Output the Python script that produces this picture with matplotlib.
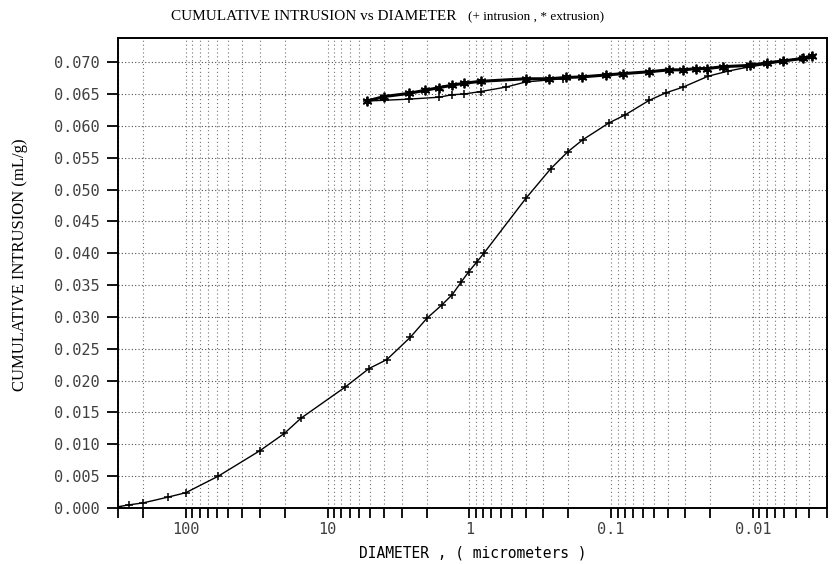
import matplotlib
matplotlib.use("Agg")
import matplotlib.pyplot as plt
from matplotlib.ticker import FixedLocator, LogLocator, NullFormatter, FixedFormatter

# intrusion (+), first pass: diameter (um) vs cumulative volume (mL/g)
intr_d = [300, 250, 200, 134, 100, 59, 30, 20.2, 15.4, 7.5, 5.1, 3.82, 2.61, 1.99,
          1.56, 1.32, 1.14, 1.01, 0.88, 0.79, 0.40, 0.266, 0.203, 0.159, 0.103,
          0.080, 0.054, 0.041, 0.031, 0.0207, 0.015, 0.011, 0.008, 0.006, 0.0045, 0.0038]
intr_v = [0.0002, 0.0005, 0.0008, 0.0017, 0.0024, 0.0050, 0.0090, 0.0117, 0.0141,
          0.0190, 0.0219, 0.0233, 0.0268, 0.0298, 0.0319, 0.0335, 0.0355, 0.0371,
          0.0387, 0.0400, 0.0486, 0.0533, 0.0559, 0.0578, 0.0605, 0.0617, 0.0640,
          0.0652, 0.0661, 0.0678, 0.0686, 0.0692, 0.0697, 0.0702, 0.0707, 0.0710]

# extrusion (*)
extr_d = [0.0038, 0.0044, 0.0061, 0.008, 0.0105, 0.0163, 0.021, 0.025, 0.031, 0.039,
          0.054, 0.083, 0.108, 0.16, 0.207, 0.275, 0.40, 0.83, 1.09, 1.32, 1.64,
          2.04, 2.68, 4.0, 5.3]
extr_v = [0.0709, 0.0706, 0.0702, 0.0699, 0.0695, 0.0693, 0.0690, 0.0690, 0.0688,
          0.0688, 0.0685, 0.0682, 0.0680, 0.0677, 0.0676, 0.0674, 0.0674, 0.0670,
          0.0667, 0.0664, 0.0660, 0.0656, 0.0651, 0.0646, 0.0639]

# second intrusion (+)
intr2_d = [5.3, 2.68, 1.64, 1.32, 1.09, 0.83, 0.55, 0.40, 0.22]
intr2_v = [0.0639, 0.0642, 0.0645, 0.0649, 0.0650, 0.0654, 0.0661, 0.0669, 0.0674]

y_ticks = [0.000, 0.005, 0.010, 0.015, 0.020, 0.025, 0.030, 0.035,
           0.040, 0.045, 0.050, 0.055, 0.060, 0.065, 0.070]
x_ticks = [100, 10, 1, 0.1, 0.01]
x_labels = ["100", "10", "1", "0.1", "0.01"]

mono = "DejaVu Sans Mono"
serif = "Liberation Serif"

fig = plt.figure(figsize=(8.32, 5.64), dpi=100)
ax = fig.add_axes([0.142, 0.0993, 0.852, 0.8333])

ax.plot(intr_d, intr_v, color="black", lw=1.0, marker="+", ms=6, mew=1.1)
ax.plot(intr2_d, intr2_v, color="black", lw=1.0, marker="+", ms=6, mew=1.1)
ax.plot(extr_d, extr_v, color="black", lw=2.2, marker=(6, 2, 0), ms=7, mew=1.3)

ax.set_xscale("log")
ax.set_xlim(300, 0.003)
ax.set_ylim(0, 0.0738)

ax.xaxis.set_major_locator(FixedLocator(x_ticks))
ax.xaxis.set_major_formatter(FixedFormatter(x_labels))
ax.xaxis.set_minor_locator(LogLocator(base=10, subs=range(2, 10), numticks=20))
ax.xaxis.set_minor_formatter(NullFormatter())
ax.yaxis.set_major_locator(FixedLocator(y_ticks))
ax.set_yticklabels([f"{v:.3f}" for v in y_ticks])

# dotted, dot-matrix style grid
ax.grid(True, which="both", axis="x", color="0.45", ls=(0, (1, 2.5)), lw=0.8)
ax.grid(True, which="major", axis="y", color="0.3", ls=(0, (1, 2)), lw=0.8)

ax.tick_params(axis="x", which="both", direction="out", length=7, width=1.3, pad=3)
ax.tick_params(axis="y", which="both", direction="out", length=8, width=1.3, pad=5)
for lab in ax.get_xticklabels() + ax.get_yticklabels():
    lab.set_family(mono)
    lab.set_fontsize(11)
    lab.set_color("0.25")

for sp in ax.spines.values():
    sp.set_linewidth(1.4)

ax.set_xlabel("DIAMETER , ( micrometers )", family=mono, fontsize=10.5, labelpad=6)
ax.set_ylabel("CUMULATIVE INTRUSION (mL/g)", family=serif, fontsize=12)
ax.yaxis.set_label_coords(-0.127, 0.517)

fig.text(0.205, 0.97, "CUMULATIVE INTRUSION vs DIAMETER", family=serif, fontsize=11,
         ha="left", va="center")
fig.text(0.562, 0.97, "(+ intrusion , * extrusion)", family=serif, fontsize=9.5,
         ha="left", va="center")

fig.savefig("out.png", dpi=100)
